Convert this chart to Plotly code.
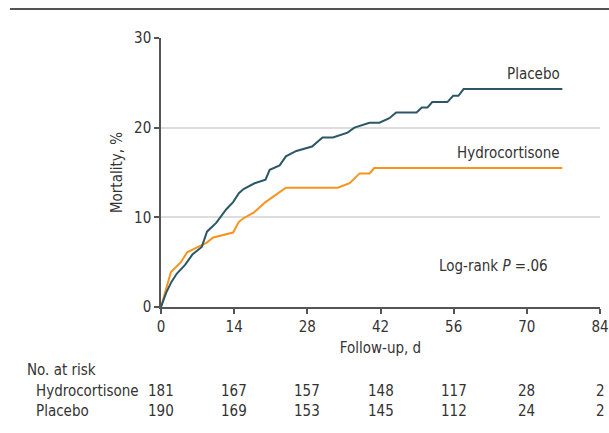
import plotly.graph_objects as go

# ---- data ----
placebo_days = [0, 1.0, 2.0, 3.0, 4.6, 6.0, 7.8, 8.8, 10.6, 12.5, 13.8, 14.9, 15.8, 17.9, 20.0, 20.8,
                22.7, 23.9, 25.9, 28.9, 30.9, 32.9, 35.7, 37.0, 39.9, 41.8, 43.7, 45.0, 48.9, 49.9,
                51.0, 51.9, 54.8, 55.9, 56.9, 57.9, 76.8]
placebo_mort = [0, 1.6, 2.8, 3.7, 4.7, 5.85, 6.7, 8.4, 9.4, 10.9, 11.7, 12.7, 13.15, 13.8, 14.2, 15.3,
                15.8, 16.8, 17.4, 17.9, 18.9, 18.9, 19.45, 20.0, 20.55, 20.55, 21.05, 21.7, 21.7, 22.25,
                22.25, 22.85, 22.85, 23.55, 23.55, 24.3, 24.3]

hydro_days = [0, 1.1, 1.9, 3.8, 5.0, 7.4, 8.7, 10.0, 13.8, 14.9, 15.8, 17.8, 20.0, 23.9, 33.8,
              36.1, 37.0, 38.0, 39.9, 40.8, 76.8]
hydro_mort = [0, 2.2, 3.9, 5.0, 6.1, 6.8, 7.15, 7.75, 8.3, 9.5, 9.9, 10.55, 11.7, 13.3, 13.3,
              13.8, 14.35, 14.9, 14.9, 15.5, 15.5]

risk_days = [0, 14, 28, 42, 56, 70, 84]
risk_hydro = [181, 167, 157, 148, 117, 28, 2]
risk_placebo = [190, 169, 153, 145, 112, 24, 2]

TEAL = "#2c5766"
ORANGE = "#f7941d"
FONT = "Liberation Sans Narrow, DejaVu Sans Condensed, sans-serif"
TXT = "#333333"

W, H = 609, 433
L, T = 161, 38
R = W - 600
B = H - 307
PW, PH = W - L - R, H - T - B


def py(pix):  # page pixel y -> paper y
    return (H - B - pix) / PH


def px(pix):  # page pixel x -> paper x
    return (pix - L) / PW


fig = go.Figure()
fig.add_trace(go.Scatter(x=hydro_days, y=hydro_mort, mode="lines",
                         line=dict(color=ORANGE, width=2), showlegend=False, hoverinfo="skip"))
fig.add_trace(go.Scatter(x=placebo_days, y=placebo_mort, mode="lines",
                         line=dict(color=TEAL, width=2), showlegend=False, hoverinfo="skip"))

FS = 15
ann = []
ann.append(dict(x=76.8, y=24.3, xref="x", yref="y", text="Placebo", showarrow=False,
                xanchor="right", yanchor="bottom", yshift=4, font=dict(size=FS, color=TXT)))
ann.append(dict(x=76.8, y=15.5, xref="x", yref="y", text="Hydrocortisone", showarrow=False,
                xanchor="right", yanchor="bottom", yshift=4, font=dict(size=FS, color=TXT)))
ann.append(dict(x=px(550), y=py(266), xref="paper", yref="paper",
                text="Log-rank <i>P</i> =.06", showarrow=False,
                xanchor="right", yanchor="middle", font=dict(size=FS, color=TXT)))
ann.append(dict(x=px(25), y=py(370), xref="paper", yref="paper", text="No. at risk",
                showarrow=False, xanchor="left", yanchor="middle", font=dict(size=FS, color=TXT)))
ann.append(dict(x=px(34), y=py(391), xref="paper", yref="paper", text="Hydrocortisone",
                showarrow=False, xanchor="left", yanchor="middle", font=dict(size=FS, color=TXT)))
ann.append(dict(x=px(34), y=py(411), xref="paper", yref="paper", text="Placebo",
                showarrow=False, xanchor="left", yanchor="middle", font=dict(size=FS, color=TXT)))
for d, h, p in zip(risk_days, risk_hydro, risk_placebo):
    ann.append(dict(x=d, y=py(391), xref="x", yref="paper", text=str(h), showarrow=False,
                    xanchor="center", yanchor="middle", font=dict(size=FS, color=TXT)))
    ann.append(dict(x=d, y=py(411), xref="x", yref="paper", text=str(p), showarrow=False,
                    xanchor="center", yanchor="middle", font=dict(size=FS, color=TXT)))

fig.update_layout(
    width=W, height=H,
    margin=dict(l=L, r=R, t=T, b=B, pad=0, autoexpand=False),
    paper_bgcolor="white", plot_bgcolor="white",
    font=dict(family=FONT, size=FS, color=TXT),
    annotations=ann,
    shapes=[dict(type="line", xref="paper", yref="paper", x0=px(10), x1=px(612),
                 y0=py(9), y1=py(9), line=dict(color="#555555", width=2))],
    xaxis=dict(range=[0, 84], tickvals=risk_days, showgrid=False, zeroline=False,
               automargin=False,
               showline=True, linecolor="#555555", linewidth=1.5,
               ticks="outside", ticklen=5, tickcolor="#555555", tickwidth=1.5,
               title=dict(text="Follow-up, d", standoff=8, font=dict(size=FS)),
               tickfont=dict(size=FS)),
    yaxis=dict(range=[0, 30], tickvals=[0, 10, 20, 30], showgrid=True, gridcolor="#dddddd",
               gridwidth=1.5, zeroline=False, automargin=False,
               showline=True, linecolor="#555555", linewidth=1.5,
               ticks="outside", ticklen=5, tickcolor="#555555", tickwidth=1.5,
               title=dict(text="Mortality, %", standoff=8, font=dict(size=FS)),
               tickfont=dict(size=FS)),
)

fig.write_html("out.html", config={"displayModeBar": False},
               post_script="document.body.style.margin='0';document.body.style.overflow='hidden';")
